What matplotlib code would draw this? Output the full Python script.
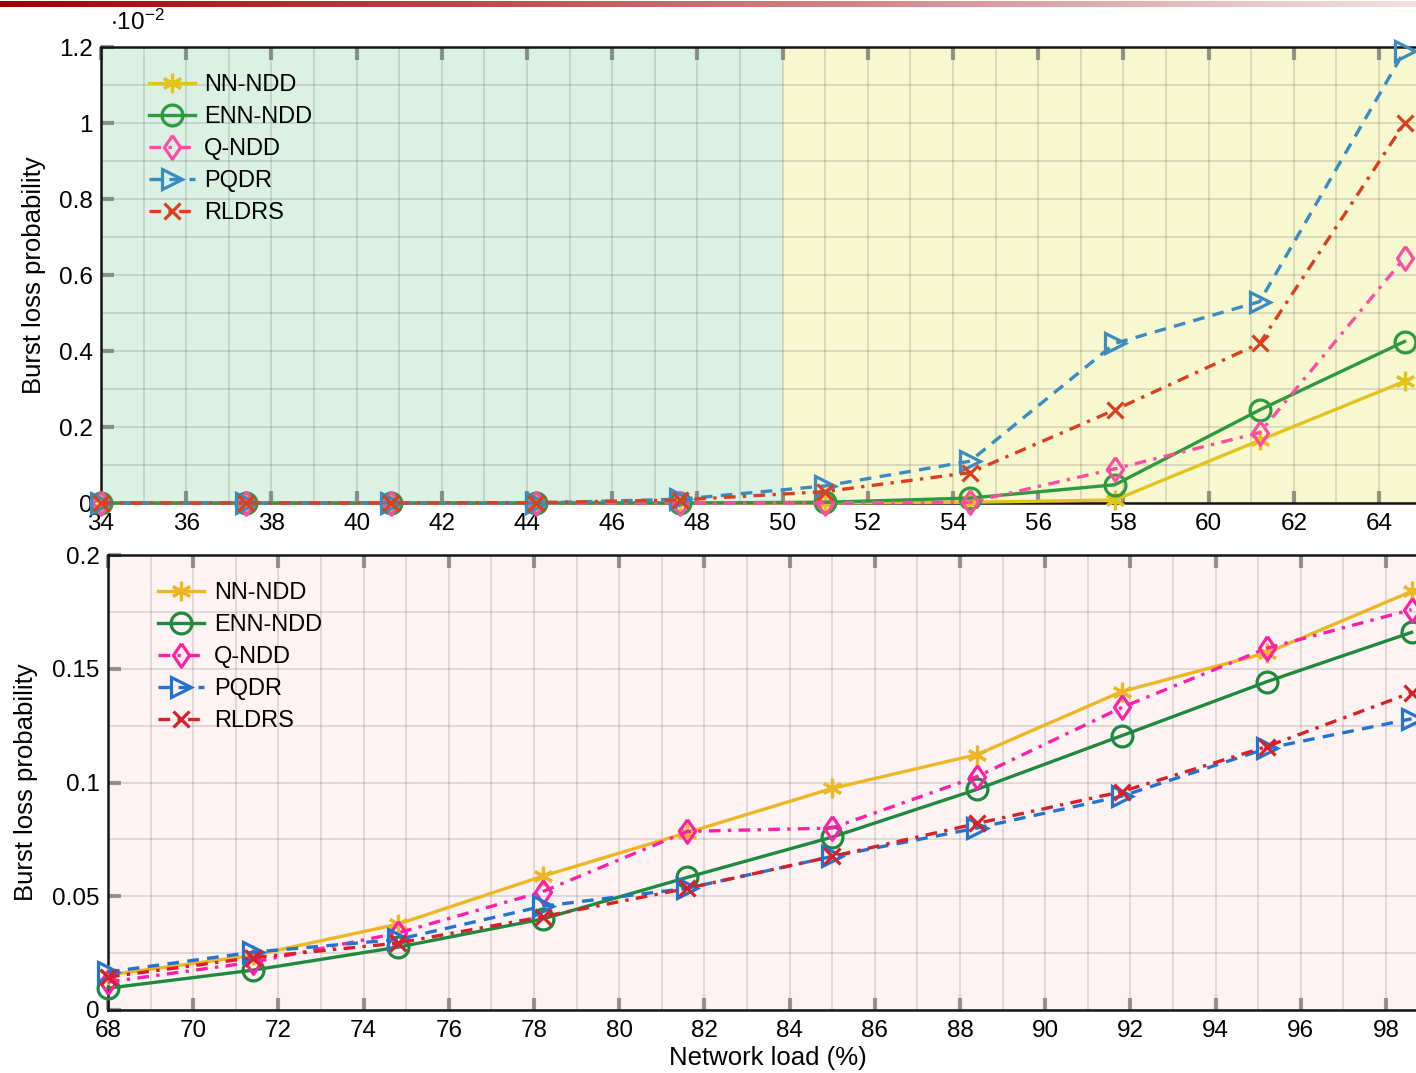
#!/usr/bin/env python

import numpy as np
import matplotlib
matplotlib.use('Agg')
import matplotlib.pyplot as plt
from matplotlib.ticker import MultipleLocator, FuncFormatter

plt.rcParams['font.family'] = ['Liberation Sans', 'DejaVu Sans']
plt.rcParams['mathtext.default'] = 'regular'

# ---- data (top panel values in units of 1e-2) ----
methods = ['NN-NDD', 'ENN-NDD', 'Q-NDD', 'PQDR', 'RLDRS']

load_low = [34, 37.4, 40.8, 44.2, 47.6, 51.0, 54.4, 57.8, 61.2, 64.6]
nn_low = [0, 0, 0, 0, 0, 0, 0.002, 0.008, 0.165, 0.32]
enn_low = [0, 0, 0, 0, 0, 0.002, 0.013, 0.048, 0.245, 0.425]
q_low = [0, 0, 0, 0, 0, 0, 0.002, 0.09, 0.185, 0.645]
pqdr_low = [0, 0, 0, 0, 0.01, 0.045, 0.11, 0.42, 0.53, 1.19]
rldrs_low = [0, 0, 0, 0.001, 0.008, 0.03, 0.08, 0.245, 0.42, 1.0]

load_high = [68, 71.4, 74.8, 78.2, 81.6, 85.0, 88.4, 91.8, 95.2, 98.6]
nn_high = [0.0154, 0.024, 0.0377, 0.0588, 0.078, 0.0974, 0.1123, 0.140, 0.157, 0.184]
enn_high = [0.0096, 0.0175, 0.0276, 0.040, 0.0583, 0.076, 0.097, 0.1206, 0.1443, 0.166]
q_high = [0.0123, 0.021, 0.0338, 0.052, 0.0785, 0.080, 0.1026, 0.133, 0.159, 0.176]
pqdr_high = [0.0167, 0.0254, 0.031, 0.0456, 0.0535, 0.0675, 0.080, 0.094, 0.115, 0.128]
rldrs_high = [0.0145, 0.023, 0.0294, 0.041, 0.0535, 0.0675, 0.082, 0.096, 0.1158, 0.1395]

# ---- styles ----
asterisk = (6, 2, 0)
diamond = [(0, 1), (0.68, 0), (0, -1), (-0.68, 0), (0, 1)]
dashdot = (0, (3.5, 2.2, 1, 2.2))
styles_top = [
    dict(color='#E3C21C', ls='-', marker=asterisk, ms=14),
    dict(color='#2E9A40', ls='-', marker='o', ms=15, mfc='none'),
    dict(color='#FF4DA6', ls=dashdot, marker=diamond, ms=17, mfc='none'),
    dict(color='#3A8CC0', ls=(0, (3.5, 2.5)), marker='>', ms=14, mfc='none'),
    dict(color='#D8401E', ls=dashdot, marker='x', ms=12),
]
styles_bot = [
    dict(color='#EDB625', ls='-', marker=asterisk, ms=14),
    dict(color='#1F8A3E', ls='-', marker='o', ms=15, mfc='none'),
    dict(color='#FF1FA8', ls=dashdot, marker=diamond, ms=17, mfc='none'),
    dict(color='#2374D0', ls=(0, (3.5, 2.5)), marker='>', ms=14, mfc='none'),
    dict(color='#D8202A', ls=dashdot, marker='x', ms=12),
]

W, H = 1416, 1073
fig = plt.figure(figsize=(W / 100, H / 100), dpi=100)

# decorative red gradient bar at the top of the slide
bar = fig.add_axes([0, 1 - 7 / H, 1, 6 / H])
grad = np.linspace(0, 1, 512)[None, :]
c0 = np.array([0.62, 0.0, 0.0])
c1 = np.array([0.95, 0.88, 0.88])
img = c0[None, None, :] * (1 - grad[..., None]) + c1[None, None, :] * grad[..., None]
bar.imshow(img, aspect='auto', extent=(0, 1, 0, 1))
bar.set_axis_off()

px = 42.6  # pixels per unit of load


def style_axes(ax, xmin, xmax, ymax, ymaj, ymin_step):
    ax.set_xlim(xmin, xmax)
    ax.set_ylim(0, ymax)
    ax.xaxis.set_major_locator(MultipleLocator(2))
    ax.xaxis.set_minor_locator(MultipleLocator(1))
    ax.yaxis.set_major_locator(MultipleLocator(ymaj))
    ax.yaxis.set_minor_locator(MultipleLocator(ymin_step))
    ax.yaxis.set_major_formatter(FuncFormatter(lambda v, p: '%g' % round(v, 4)))
    ax.grid(True, which='both', color='#606060', alpha=0.22, lw=1.2)
    ax.tick_params(which='major', direction='in', length=9, width=3,
                   colors=(0.35, 0.35, 0.35, 0.6), labelcolor='black',
                   labelsize=17.5, top=True, right=False)
    ax.tick_params(which='minor', length=0)
    ax.tick_params(axis='x', pad=7)
    ax.tick_params(axis='y', pad=6)
    for s in ['top', 'left', 'bottom']:
        ax.spines[s].set_linewidth(1.8)
        ax.spines[s].set_color('#151515')
    ax.spines['right'].set_visible(False)


def draw_lines(ax, x, series, styles):
    for name, y, st in zip(methods, series, styles):
        ax.plot(x, y, label=name, lw=2.4, mew=2.3, clip_on=False, zorder=3, **st)


def add_legend(ax, x0, y0):
    ax.legend(loc='upper left', bbox_to_anchor=(x0, y0), frameon=False,
              fontsize=17, borderpad=0, borderaxespad=0, handlelength=1.95,
              handletextpad=0.4, labelspacing=0.42)


# ---- top panel ----
ax1 = fig.add_axes([101 / W, 1 - 503 / H, 31 * px / W, 456 / H])
ax1.axvspan(34, 50, color='#DAF1E4', zorder=0, lw=0)
ax1.axvspan(50, 65, color='#F7F7D0', zorder=0, lw=0)
style_axes(ax1, 34, 65, 1.2, 0.2, 0.1)
draw_lines(ax1, load_low, [nn_low, enn_low, q_low, pqdr_low, rldrs_low], styles_top)
ax1.set_ylabel('Burst loss probability', fontsize=18.5)
ax1.yaxis.set_label_coords((46 - 101) / (31 * px), 0.5)
add_legend(ax1, 0.036, 0.94)
fig.text(110 / W, 1 - 22 / H, r'$\cdot10^{-2}$', fontsize=17.5, ha='left', va='center')

# ---- bottom panel ----
ax2 = fig.add_axes([108 / W, 1 - 1010 / H, 31 * px / W, 455 / H])
ax2.set_facecolor('#FDF3F2')
style_axes(ax2, 68, 99, 0.2, 0.05, 0.025)
draw_lines(ax2, load_high, [nn_high, enn_high, q_high, pqdr_high, rldrs_high], styles_bot)
ax2.set_ylabel('Burst loss probability', fontsize=18.5)
ax2.yaxis.set_label_coords((38 - 108) / (31 * px), 0.5)
ax2.set_xlabel('Network load (%)', fontsize=18.5)
ax2.xaxis.set_label_coords((768 - 108) / (31 * px), -0.08)
add_legend(ax2, 0.038, 0.94)

fig.savefig('out.png', dpi=100)
